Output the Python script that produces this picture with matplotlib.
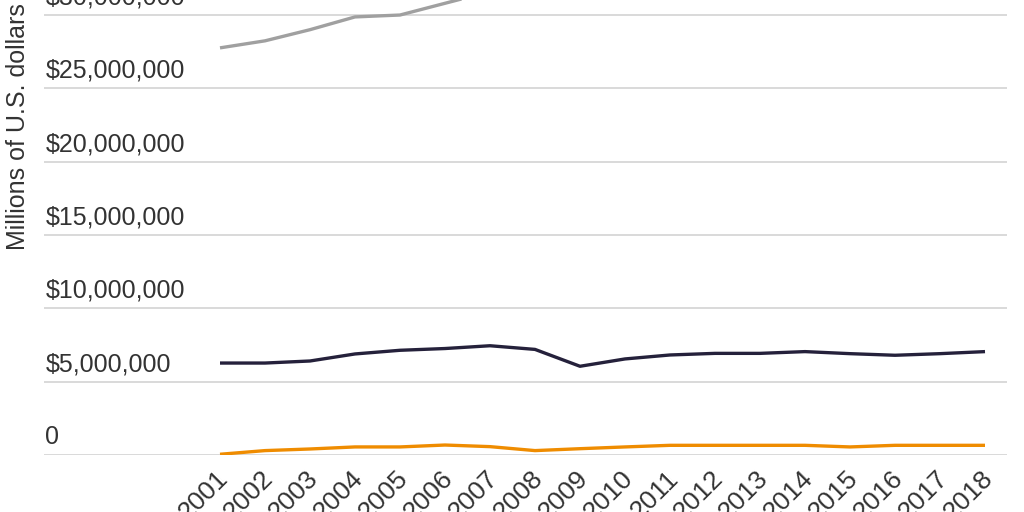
import numpy as np
import matplotlib.pyplot as plt
import matplotlib.transforms as mtransforms

plt.rcParams['font.family'] = ['Liberation Sans', 'DejaVu Sans']

# years on the x axis
years = list(range(2001, 2019))

# values in millions of U.S. dollars (grey line leaves the frame after 2006)
grey_series = [27.76e6, 28.24e6, 29.0e6, 29.87e6, 30.0e6, 30.8e6, 31.6e6, 32.5e6, 31.2e6,
               33.0e6, 34.5e6, 35.0e6, 35.5e6, 36.2e6, 35.8e6, 36.0e6, 37.5e6, 39.0e6]
navy_series = [6.27e6, 6.27e6, 6.41e6, 6.89e6, 7.14e6, 7.26e6, 7.45e6, 7.20e6, 6.05e6,
               6.55e6, 6.82e6, 6.93e6, 6.93e6, 7.05e6, 6.91e6, 6.80e6, 6.91e6, 7.05e6]
orange_series = [0.05e6, 0.30e6, 0.41e6, 0.55e6, 0.55e6, 0.68e6, 0.57e6, 0.30e6, 0.43e6,
                 0.55e6, 0.66e6, 0.66e6, 0.66e6, 0.66e6, 0.55e6, 0.66e6, 0.66e6, 0.66e6]

y_ticks = [0, 5e6, 10e6, 15e6, 20e6, 25e6, 30e6]
y_tick_labels = ['0', '$5,000,000', '$10,000,000', '$15,000,000', '$20,000,000',
                 '$25,000,000', '$30,000,000']

fig = plt.figure(figsize=(10.24, 5.12), dpi=100)
# the plot area runs off the top of the picture, as in the reference
px_per_unit = 73.33 / 5e6
y_top = 45e6
ax = fig.add_axes([44 / 1024, 57 / 512, 963 / 1024, y_top * px_per_unit / 512])

ax.plot(years, grey_series, color='#a0a0a0', lw=2.4, solid_capstyle='butt')
ax.plot(years, navy_series, color='#25213b', lw=2.4, solid_capstyle='butt')
ax.plot(years, orange_series, color='#ef8c00', lw=2.4, solid_capstyle='butt')

ax.set_xlim(2001 - 176 / 45, 2018 + 22 / 45)
ax.set_ylim(0, y_top)

for v in y_ticks:
    ax.axhline(v, color='#d9d9d9', lw=1.4, zorder=0)

trans = mtransforms.blended_transform_factory(ax.transAxes, ax.transData)
for v, lab in zip(y_ticks, y_tick_labels):
    ax.annotate(lab, xy=(0, v), xycoords=trans, xytext=(1, 4), textcoords='offset points',
                ha='left', va='bottom', fontsize=18, color='#333333')

ax.set_yticks([])
ax.set_xticks(years)
ax.set_xticklabels([str(y) for y in years], rotation=45, ha='right', va='top',
                   rotation_mode='anchor', fontsize=19, color='#333333')
ax.tick_params(axis='x', length=0, pad=8)
shift = mtransforms.ScaledTranslation(-4 / 100, 0, fig.dpi_scale_trans)
for lbl in ax.get_xticklabels():
    lbl.set_transform(lbl.get_transform() + shift)
for s in ax.spines.values():
    s.set_visible(False)

fig.text(18 / 1024, (512 - 250) / 512, 'Millions of U.S. dollars', rotation=90,
         ha='center', va='bottom', fontsize=18, color='#333333')

fig.savefig('out.png', dpi=100)
